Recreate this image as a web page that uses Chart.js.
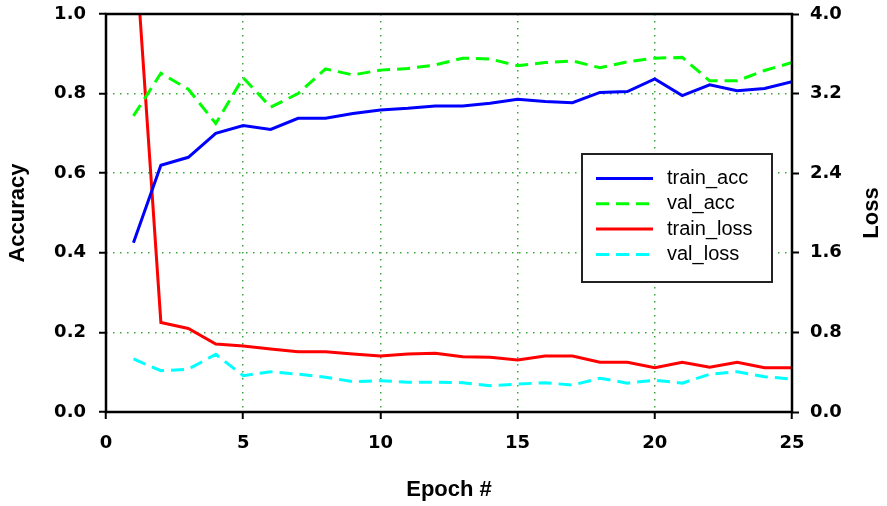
<!DOCTYPE html>
<html>
<head>
<meta charset="utf-8">
<script src="https://cdn.jsdelivr.net/npm/chart.js@4.4.1/dist/chart.umd.min.js"></script>
<style>
  html, body { margin: 0; background: #fff; }
  canvas { display: block; }
</style>
</head>
<body>
<canvas id="chart" width="887" height="506"></canvas>
<script>
// epochs 1..25
const epochs = [1, 2, 3, 4, 5, 6, 7, 8, 9, 10, 11, 12, 13, 14, 15, 16, 17, 18, 19, 20, 21, 22, 23, 24, 25];

// accuracy (left axis)
const trainAcc = [0.425, 0.62, 0.64, 0.70, 0.72, 0.71, 0.738, 0.738, 0.75, 0.759, 0.763, 0.769, 0.769,
  0.776, 0.786, 0.78, 0.777, 0.803, 0.805, 0.837, 0.795, 0.822, 0.807, 0.813, 0.83];
const valAcc = [0.744, 0.851, 0.811, 0.725, 0.84, 0.766, 0.80, 0.862, 0.847, 0.859, 0.863, 0.872, 0.889,
  0.887, 0.87, 0.878, 0.882, 0.865, 0.88, 0.889, 0.891, 0.832, 0.832, 0.858, 0.878];

// loss (right axis)
const trainLoss = [4.95, 0.90, 0.84, 0.683, 0.663, 0.633, 0.606, 0.606, 0.583, 0.563, 0.583, 0.59, 0.556,
  0.55, 0.523, 0.563, 0.563, 0.5, 0.5, 0.445, 0.5, 0.45, 0.5, 0.445, 0.445];
const valLoss = [0.533, 0.415, 0.43, 0.58, 0.365, 0.405, 0.38, 0.35, 0.305, 0.315, 0.3, 0.3, 0.295,
  0.265, 0.28, 0.295, 0.27, 0.34, 0.29, 0.32, 0.29, 0.38, 0.405, 0.355, 0.33];

const xTitle = "Epoch #";
const leftTitle = "Accuracy";
const rightTitle = "Loss";

const tickFont = { family: '"DejaVu Sans"', size: 18, weight: "bold" };
const titleFont = { family: '"Liberation Sans", Arial', size: 22, weight: "bold" };
const gridGreen = "#3da53d";

function pts(values) {
  return epochs.map((e, i) => ({ x: e, y: values[i] }));
}

// box round the plot, right axis title and the boxed legend
const framePlugin = {
  id: "frame",
  afterDraw(chart) {
    const c = chart.ctx;
    const a = chart.chartArea;
    c.save();
    c.lineWidth = 2.5;
    c.strokeStyle = "#000";
    c.strokeRect(a.left, a.top, a.right - a.left, a.bottom - a.top);

    // "Loss" reads bottom to top, like the left title
    c.translate(872, 213);
    c.rotate(-Math.PI / 2);
    c.font = 'bold 22px "Liberation Sans", Arial';
    c.fillStyle = "#000";
    c.textAlign = "center";
    c.textBaseline = "middle";
    c.fillText(rightTitle, 0, 0);
    c.restore();

    // legend
    c.save();
    c.fillStyle = "#fff";
    c.fillRect(582, 154, 190, 128);
    c.lineWidth = 2;
    c.strokeStyle = "#222";
    c.strokeRect(582, 154, 190, 128);
    chart.data.datasets.forEach((ds, i) => {
      const y = 178.5 + i * 25.3;
      c.setLineDash(ds.borderDash || []);
      c.strokeStyle = ds.borderColor;
      c.lineWidth = 3;
      c.beginPath();
      c.moveTo(596, y);
      c.lineTo(653, y);
      c.stroke();
      c.setLineDash([]);
      c.fillStyle = "#000";
      c.font = '20px "Liberation Sans", Arial';
      c.textBaseline = "middle";
      c.fillText(ds.label, 667, y);
    });
    c.restore();
  }
};

// fixed axis sizes so the plot box lands where the original has it
function fixWidth(w) {
  return (scale) => {
    scale.width = w;
    scale.paddingTop = 0;
    scale.paddingBottom = 0;
  };
}

new Chart(document.getElementById("chart"), {
  type: "line",
  data: {
    datasets: [
      { label: "train_acc", data: pts(trainAcc), yAxisID: "y", borderColor: "#0000ff", borderWidth: 3 },
      { label: "val_acc", data: pts(valAcc), yAxisID: "y", borderColor: "#00ff00", borderWidth: 3, borderDash: [13, 7] },
      { label: "train_loss", data: pts(trainLoss), yAxisID: "y2", borderColor: "#ff0000", borderWidth: 3 },
      { label: "val_loss", data: pts(valLoss), yAxisID: "y2", borderColor: "#00ffff", borderWidth: 3, borderDash: [13, 7] }
    ]
  },
  options: {
    responsive: false,
    animation: false,
    devicePixelRatio: 1,
    layout: { padding: { top: 14, left: 0, right: 0, bottom: 0 } },
    elements: { point: { radius: 0 }, line: { tension: 0 } },
    plugins: { legend: { display: false }, tooltip: { enabled: false } },
    scales: {
      x: {
        type: "linear",
        min: 0,
        max: 25,
        ticks: { stepSize: 5, font: tickFont, color: "#000", padding: 14, maxRotation: 0 },
        grid: {
          color: (ctx) => (ctx.tick && (ctx.tick.value === 0 || ctx.tick.value === 25) ? "rgba(0,0,0,0)" : gridGreen),
          lineWidth: 1.5,
          tickColor: "#000",
          tickWidth: 2,
          tickLength: 7
        },
        border: { display: false, dash: [1.5, 5.5] },
        title: { display: true, text: xTitle, font: titleFont, color: "#000", padding: { top: 0, bottom: 3 } },
        afterFit(scale) {
          scale.height = 94;
          scale.paddingLeft = 0;
          scale.paddingRight = 0;
        }
      },
      y: {
        position: "left",
        min: 0,
        max: 1,
        ticks: { stepSize: 0.2, font: tickFont, color: "#000", padding: 13, callback: (v) => v.toFixed(1) },
        grid: {
          color: (ctx) => (ctx.tick && (ctx.tick.value <= 0.001 || ctx.tick.value >= 0.999) ? "rgba(0,0,0,0)" : gridGreen),
          lineWidth: 1.5,
          tickColor: "#000",
          tickWidth: 2,
          tickLength: 7
        },
        border: { display: false, dash: [1.5, 5.5] },
        title: { display: true, text: leftTitle, font: titleFont, color: "#000", padding: { top: 5, bottom: 0 } },
        afterFit: fixWidth(106)
      },
      y2: {
        position: "right",
        min: 0,
        max: 4,
        ticks: { stepSize: 0.8, font: tickFont, color: "#000", padding: 11, callback: (v) => v.toFixed(1) },
        grid: { drawOnChartArea: false, tickColor: "#000", tickWidth: 2, tickLength: 7 },
        border: { display: false },
        afterFit: fixWidth(95)
      }
    }
  },
  plugins: [framePlugin]
});
</script>
</body>
</html>
